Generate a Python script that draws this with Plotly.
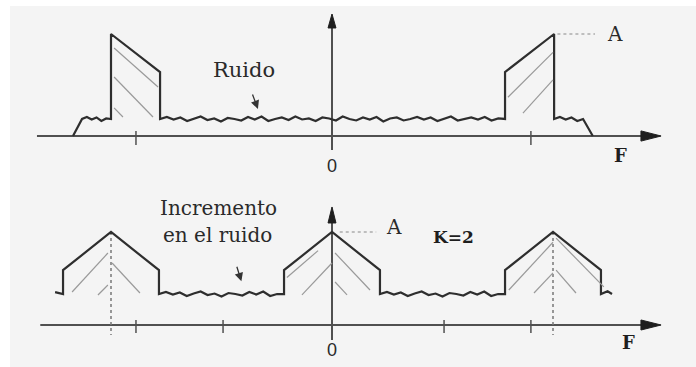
import numpy as np
import plotly.graph_objects as go

# ---------------- data (frequency F in units of Fs, amplitude in units of A) ----------------
# Top panel: band-pass spectrum with noise floor
top_axis_x = [-1.335, 1.40]
top_band_left = [-1.0, -0.778]          # left band edges (A side, shoulder side)
top_band_right = [0.783, 1.005]         # right band edges
top_band_levels = [1.0, 0.627]          # peak A and shoulder level
top_noise_level = 0.167
top_shelf_x = [-1.172, -1.131, 1.136, 1.18]   # noise shelf ends
top_ticks = [-0.887, 0.9]

# hatching inside the top bands (x0, y0, x1, y1)
top_hatch = [
    (-0.986, 0.863, -0.787, 0.480),
    (-0.986, 0.578, -0.810, 0.186),
    (-0.986, 0.275, -0.946, 0.186),
    (0.796, 0.380, 1.000, 0.820),
    (0.864, 0.225, 1.000, 0.550),
]

# Bottom panel: decimated spectrum, K=2
bot_axis_x = [-1.32, 1.40]
bot_centers = [-1.0, 0.0, 1.0]
bot_halfwidth = 0.217
bot_peak = 1.0
bot_shoulder = 0.59
bot_noise_level = 0.333
bot_feet_x = [-1.253, 1.267]
bot_ticks = [-0.887, -0.493, 0.507, 0.9]

bot_hatch = [
    (-1.176, 0.355, -1.014, 0.774),
    (-0.995, 0.667, -0.869, 0.344),
    (-1.059, 0.323, -1.014, 0.430),
    (-0.204, 0.510, -0.063, 0.800),
    (-0.136, 0.323, 0.000, 0.667),
    (0.014, 0.774, 0.172, 0.376),
    (0.014, 0.462, 0.068, 0.323),
    (0.800, 0.376, 1.000, 0.890),
    (0.914, 0.344, 1.000, 0.560),
    (1.014, 0.935, 1.230, 0.410),
    (1.014, 0.590, 1.104, 0.344),
]

# hand-read noise wiggle (pixels)
wiggle = [0, 2, -0.5, 1.5, -2, 0.5, 2.5, -1, 0.5, -2.5, 1, 0, -1.5, 2, -0.5, 2.5, -2, 0,
          1.5, -1, 2.5, -0.5, 0.5, -2, 1.5, 0.5, -1.5, 2.5, 0, -1.5, 1.5, -0.5, 2, -2.5, 0.5, 1.5,
          -1.5, 0, 2, -0.5, 1.5, -2, 0.5, 2.5, -1.5, 0, 1.5, -0.5, 2, -1.5, 0.5, 0]

# ---------------- geometry helpers ----------------
TOP_PX = 102.0   # pixels per amplitude unit (top)
BOT_PX = 93.0    # pixels per amplitude unit (bottom)
OUT = "#2e2e2e"
HATCH = "#9a9a9a"
AXC = "#505050"
TXT = "#2a2a2a"


def noise(x0, x1, level, scale, n=None):
    if n is None:
        n = max(3, int(round(abs(x1 - x0) / 0.03)))
    n = min(n, len(wiggle))
    xs = list(np.linspace(x0, x1, n))
    ys = [level + w / scale for w in wiggle[:n]]
    ys[0] = level
    ys[-1] = level
    return xs, ys


fig = go.Figure()


def line(xs, ys, yaxis="y", color=OUT, width=2.0, dash=None):
    fig.add_trace(go.Scatter(x=xs, y=ys, mode="lines", yaxis=yaxis, hoverinfo="skip",
                             line=dict(color=color, width=width, dash=dash), showlegend=False))


def tri(xs, ys, yaxis="y"):
    fig.add_trace(go.Scatter(x=xs, y=ys, mode="lines", fill="toself", fillcolor="#1e1e1e",
                             yaxis=yaxis, line=dict(color="#1e1e1e", width=1), hoverinfo="skip",
                             showlegend=False))


# ---------------- top panel ----------------
line(top_axis_x, [0, 0], color=AXC, width=2)
tri([1.489, 1.398, 1.398, 1.489], [0, 0.05, -0.05, 0])
line([0, 0], [-0.137, 1.06], color=AXC, width=2)
tri([0, -0.018, 0.018, 0], [1.196, 1.059, 1.059, 1.196])
for t in top_ticks:
    line([t, t], [0.049, -0.088], color=AXC, width=1.5)

xs, ys = [top_shelf_x[0]], [0.0]
nx, ny = noise(top_shelf_x[1], top_band_left[0], top_noise_level, TOP_PX, 7)
xs += nx; ys += ny
xs += [top_band_left[0], top_band_left[1], top_band_left[1]]
ys += [top_band_levels[0], top_band_levels[1], top_noise_level]
nx, ny = noise(top_band_left[1], top_band_right[0], top_noise_level, TOP_PX)
xs += nx; ys += ny
xs += [top_band_right[0], top_band_right[1], top_band_right[1]]
ys += [top_band_levels[1], top_band_levels[0], top_noise_level]
nx, ny = noise(top_band_right[1], top_shelf_x[2], top_noise_level, TOP_PX, 6)
xs += nx; ys += ny
xs += [top_shelf_x[3]]
ys += [0.0]
line(xs, ys, width=2.2)
for h in top_hatch:
    line([h[0], h[2]], [h[1], h[3]], color=HATCH, width=1.2)
line([1.02, 1.19], [1.0, 1.0], color="#888888", width=1, dash="dot")

# ---------------- bottom panel ----------------
line(bot_axis_x, [0, 0], yaxis="y2", color=AXC, width=2)
tri([1.489, 1.398, 1.398, 1.489], [0, 0.054, -0.054, 0], yaxis="y2")
line([0, 0], [-0.161, 1.1], yaxis="y2", color=AXC, width=2)
tri([0, -0.018, 0.018, 0], [1.269, 1.097, 1.097, 1.269], yaxis="y2")
for t in bot_ticks:
    line([t, t], [0.054, -0.086], yaxis="y2", color=AXC, width=1.5)
for c in (bot_centers[0], bot_centers[2]):
    line([c, c], [bot_peak, -0.107], yaxis="y2", color="#777777", width=1.5, dash="dot")

xs = [bot_feet_x[0], bot_centers[0] - bot_halfwidth]
ys = [bot_noise_level + 0.02, bot_noise_level]
for i, c in enumerate(bot_centers):
    xs += [c - bot_halfwidth, c - bot_halfwidth, c, c + bot_halfwidth, c + bot_halfwidth]
    ys += [bot_noise_level, bot_shoulder, bot_peak, bot_shoulder, bot_noise_level]
    if i < len(bot_centers) - 1:
        nx, ny = noise(c + bot_halfwidth, bot_centers[i + 1] - bot_halfwidth, bot_noise_level, BOT_PX)
        xs += nx; ys += ny
xs += [bot_feet_x[1] - 0.02, bot_feet_x[1]]
ys += [bot_noise_level + 0.03, bot_noise_level]
line(xs, ys, yaxis="y2", width=2.2)
for h in bot_hatch:
    line([h[0], h[2]], [h[1], h[3]], yaxis="y2", color=HATCH, width=1.2)
line([0.035, 0.2], [1.0, 1.0], yaxis="y2", color="#888888", width=1, dash="dot")

# ---------------- text ----------------
serif = "DejaVu Serif"
ann = [
    dict(x=-0.40, y=0.65, yref="y", text="Ruido", font=dict(family=serif, size=21, color=TXT)),
    dict(x=1.28, y=1.0, yref="y", text="A", font=dict(family=serif, size=20, color=TXT)),
    dict(x=0.0, y=-0.29, yref="y", text="0", font=dict(family="Liberation Sans", size=18, color=TXT)),
    dict(x=1.307, y=-0.19, yref="y", text="<b>F</b>", font=dict(family=serif, size=18, color="#1e1e1e")),
    dict(x=-0.512, y=1.26, yref="y2", text="Incremento", font=dict(family=serif, size=20, color=TXT)),
    dict(x=-0.516, y=0.97, yref="y2", text="en el ruido", font=dict(family=serif, size=20, color=TXT)),
    dict(x=0.281, y=1.05, yref="y2", text="A", font=dict(family=serif, size=20, color=TXT)),
    dict(x=0.551, y=0.95, yref="y2", text="<b>K=2</b>", font=dict(family=serif, size=17, color="#1e1e1e")),
    dict(x=0.0, y=-0.27, yref="y2", text="0", font=dict(family="Liberation Sans", size=18, color=TXT)),
    dict(x=1.34, y=-0.19, yref="y2", text="<b>F</b>", font=dict(family=serif, size=18, color="#1e1e1e")),
]
annotations = []
for a in ann:
    a.update(xref="x", showarrow=False, xanchor="center", yanchor="middle")
    annotations.append(a)
# small pointer arrows to the noise
annotations.append(dict(x=-0.335, y=0.265, xref="x", yref="y", showarrow=True, ax=-6, ay=-16,
                        arrowhead=2, arrowsize=1.3, arrowwidth=1.3, arrowcolor="#333333", text=""))
annotations.append(dict(x=-0.41, y=0.47, xref="x", yref="y2", showarrow=True, ax=-5, ay=-16,
                        arrowhead=2, arrowsize=1.3, arrowwidth=1.3, arrowcolor="#333333", text=""))

fig.update_layout(
    width=696, height=367,
    margin=dict(l=0, r=0, t=0, b=0),
    paper_bgcolor="white", plot_bgcolor="rgba(0,0,0,0)",
    xaxis=dict(range=[-332 / 221, 364 / 221], visible=False, fixedrange=True),
    yaxis=dict(range=[(136 - 367) / TOP_PX, 136 / TOP_PX], visible=False, fixedrange=True),
    yaxis2=dict(range=[(325 - 367) / BOT_PX, 325 / BOT_PX], visible=False, overlaying="y",
                fixedrange=True),
    annotations=annotations,
    shapes=[dict(type="rect", xref="paper", yref="paper", x0=10 / 696, x1=1.0, y0=0, y1=1 - 6 / 367,
                 fillcolor="#f4f4f4", line=dict(width=0), layer="below")],
    showlegend=False,
)

fig.write_html("out.html")
